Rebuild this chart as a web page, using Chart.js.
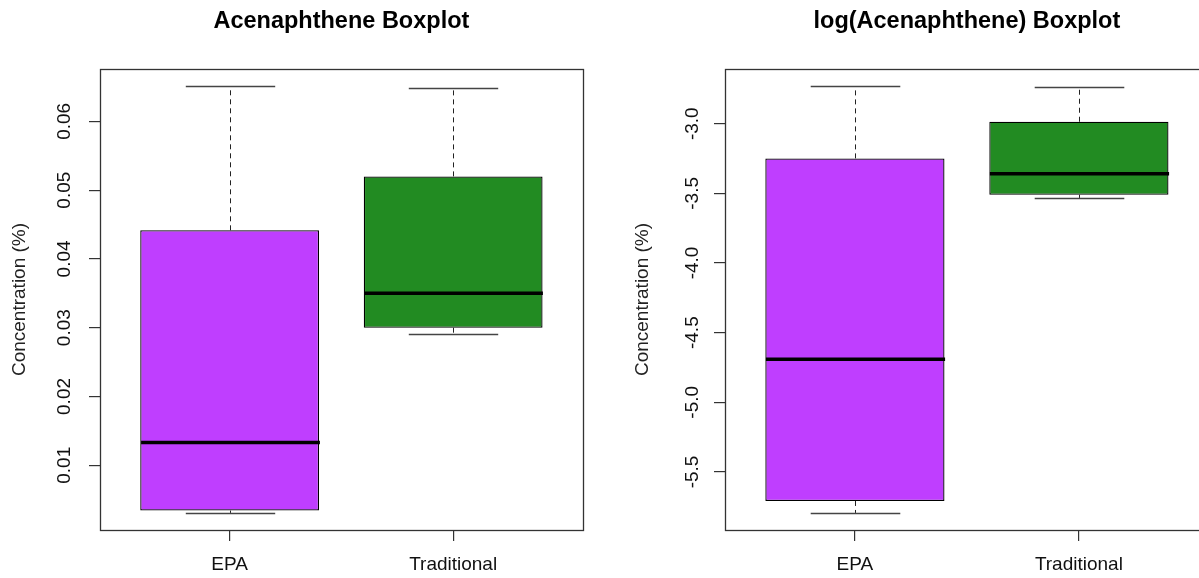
<!DOCTYPE html>
<html><head><meta charset="utf-8">
<script src="https://cdn.jsdelivr.net/npm/chart.js@4.4.1/dist/chart.umd.min.js"></script>
<style>
html,body{margin:0;padding:0;background:#fff;overflow:hidden;width:1199px;height:578px;position:relative;}
#c1{position:absolute;left:0;top:0;}
#c2{position:absolute;left:600px;top:0;}
</style></head><body>
<canvas id="c1" width="600" height="578"></canvas>
<canvas id="c2" width="612" height="578"></canvas>
<script>
const categories = ['EPA', 'Traditional'];
const boxColors = ['#BF3EFF', '#228B22'];

// Raw concentration five-number summaries
const rawMin    = [0.00307, 0.02914];
const rawQ1     = [0.00341, 0.0300];
const rawMedian = [0.0133, 0.0350];
const rawQ3     = [0.04416, 0.0520];
const rawMax    = [0.06513, 0.0648];
const rawTicks  = [0.01, 0.02, 0.03, 0.04, 0.05, 0.06];

// log concentration five-number summaries
const logMin    = [-5.794, -3.533];
const logQ1     = [-5.708, -3.510];
const logMedian = [-4.691, -3.359];
const logQ3     = [-3.249, -2.986];
const logMax    = [-2.730, -2.737];
const logTicks  = [-5.5, -5.0, -4.5, -4.0, -3.5, -3.0];

const FONT = "'Liberation Sans', Arial, sans-serif";

function line(ctx, x1, y1, x2, y2) {
  ctx.beginPath(); ctx.moveTo(x1, y1); ctx.lineTo(x2, y2); ctx.stroke();
}

function makeBoxplot(canvasId, opts) {
  const s = opts.stats;
  const lo = Math.min(...s.min), hi = Math.max(...s.max);
  const ext = (hi - lo) * 0.04;
  const n = categories.length;
  const xExt = n * 0.04;

  const boxPlugin = {
    id: 'boxparts_' + canvasId,
    afterDatasetsDraw(chart) {
      const {ctx, scales: {x, y}} = chart;
      const meta = chart.getDatasetMeta(0);
      meta.data.forEach((bar, i) => {
        const cx = Math.round(x.getPixelForValue(i + 1)) + 0.5;
        const hw = bar.width / 2, cw = hw / 2;
        const pMin = y.getPixelForValue(s.min[i]);
        const pQ1 = y.getPixelForValue(s.q1[i]);
        const pMed = y.getPixelForValue(s.median[i]);
        const pQ3 = y.getPixelForValue(s.q3[i]);
        const pMax = y.getPixelForValue(s.max[i]);
        ctx.save();
        ctx.strokeStyle = '#222';
        ctx.lineWidth = 1;
        ctx.setLineDash([5, 4]);
        line(ctx, cx, pQ3, cx, pMax);
        line(ctx, cx, pQ1, cx, pMin);
        ctx.setLineDash([]);
        ctx.strokeStyle = '#444';
        ctx.lineWidth = 1.3;
        line(ctx, cx - cw, Math.round(pMax) + 0.5, cx + cw, Math.round(pMax) + 0.5);
        line(ctx, cx - cw, Math.round(pMin) + 0.5, cx + cw, Math.round(pMin) + 0.5);
        ctx.strokeStyle = '#000';
        ctx.lineWidth = 3.5;
        line(ctx, cx - hw, pMed, cx + hw, pMed);
        ctx.restore();
      });
    },
    afterDraw(chart) {
      const {ctx, chartArea: a, scales: {y}} = chart;
      ctx.save();
      ctx.strokeStyle = '#333';
      ctx.lineWidth = 1.3;
      ctx.strokeRect(Math.round(a.left) + 0.5, Math.round(a.top) + 0.5,
                     Math.round(a.right - a.left), Math.round(a.bottom - a.top));
      ctx.fillStyle = '#111';
      ctx.font = '19px ' + FONT;
      ctx.textAlign = 'center';
      ctx.textBaseline = 'middle';
      y.ticks.forEach(t => {
        const py = y.getPixelForValue(t.value);
        ctx.save();
        ctx.translate(a.left - opts.labelGap, py);
        ctx.rotate(-Math.PI / 2);
        ctx.fillText(t.value.toFixed(opts.decimals), 0, 0);
        ctx.restore();
      });
      ctx.restore();
    }
  };

  return new Chart(document.getElementById(canvasId), {
    type: 'bar',
    data: {
      datasets: [{
        data: categories.map((c, i) => ({x: i + 1, y: [s.q1[i], s.q3[i]]})),
        backgroundColor: boxColors,
        borderColor: '#000',
        borderWidth: 1.3,
        borderSkipped: false,
        categoryPercentage: 0.8,
        barPercentage: 1.0
      }]
    },
    options: {
      responsive: false,
      animation: false,
      layout: {padding: {left: 0, right: opts.padRight, top: 0, bottom: 0}},
      plugins: {
        legend: {display: false},
        tooltip: {enabled: false},
        title: {
          display: true, text: opts.title, fullSize: false,
          color: '#000', font: {family: FONT, size: 23.5, weight: 'bold'},
          padding: {top: 7.2, bottom: 33.6}
        }
      },
      scales: {
        x: {
          type: 'linear', offset: false,
          min: 0.5 - xExt, max: n + 0.5 + xExt,
          afterBuildTicks: sc => { sc.ticks = categories.map((c, i) => ({value: i + 1})); },
          afterFit: sc => { sc.height = 48; },
          ticks: {
            callback: v => categories[Math.round(v) - 1],
            color: '#111', font: {family: FONT, size: 19},
            padding: 12.6, maxRotation: 0, minRotation: 0, autoSkip: false
          },
          grid: {offset: false, drawOnChartArea: false, drawTicks: true, tickLength: 11, color: '#333', lineWidth: 1.2},
          border: {display: true, color: '#333'}
        },
        y: {
          type: 'linear',
          min: lo - ext, max: hi + ext,
          afterBuildTicks: sc => { sc.ticks = opts.ticks.map(v => ({value: v})); },
          afterFit: sc => { sc.width = opts.axisW; },
          ticks: {display: false},
          grid: {offset: false, drawOnChartArea: false, drawTicks: true, tickLength: 11, color: '#333', lineWidth: 1.2},
          border: {display: true, color: '#333'},
          title: {
            display: true, text: 'Concentration (%)', color: '#222',
            font: {family: FONT, size: 19},
            padding: {top: opts.titlePad, bottom: 0}
          }
        }
      }
    },
    plugins: [boxPlugin]
  });
}

makeBoxplot('c1', {
  title: 'Acenaphthene Boxplot',
  stats: {min: rawMin, q1: rawQ1, median: rawMedian, q3: rawQ3, max: rawMax},
  ticks: rawTicks, decimals: 2,
  axisW: 100, padRight: 17.2, titlePad: 8.6, labelGap: 35
});
makeBoxplot('c2', {
  title: 'log(Acenaphthene) Boxplot',
  stats: {min: logMin, q1: logQ1, median: logMedian, q3: logQ3, max: logMax},
  ticks: logTicks, decimals: 1,
  axisW: 125, padRight: 3.2, titlePad: 31.6, labelGap: 32
});
</script>
</body></html>
